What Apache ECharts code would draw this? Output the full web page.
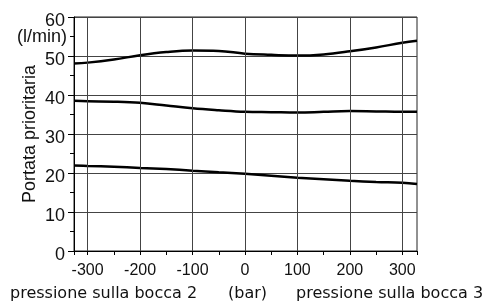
<!DOCTYPE html>
<html>
<head>
<meta charset="utf-8">
<script src="https://cdn.jsdelivr.net/npm/echarts@6/dist/echarts.min.js"></script>
<style>
  html, body { margin: 0; padding: 0; background: #fff; }
  #chart { width: 484px; height: 305px; }
</style>
</head>
<body>
<div id="chart"></div>
<script>
// pressione (bar): negativo = bocca 2, positivo = bocca 3
const pressure = [-326, -300, -250, -200, -150, -100, -50, 0, 50, 100, 150, 200, 250, 300, 328];
// portata prioritaria (l/min), tre curve
const flowHigh = [48.1, 48.3, 49.1, 50.2, 51.0, 51.4, 51.3, 50.6, 50.3, 50.1, 50.4, 51.2, 52.2, 53.4, 53.9];
const flowMid = [38.5, 38.4, 38.3, 38.0, 37.3, 36.6, 36.1, 35.7, 35.6, 35.5, 35.7, 35.9, 35.8, 35.7, 35.7];
const flowLow = [21.9, 21.8, 21.6, 21.3, 21.0, 20.6, 20.2, 19.8, 19.3, 18.8, 18.4, 18.0, 17.7, 17.5, 17.2];

const xLabels = [-300, -200, -100, 0, 100, 200, 300];
const xTicks = [-326, -300, -250, -200, -150, -100, -50, 0, 50, 100, 150, 200, 250, 300, 328];

const chart = echarts.init(document.getElementById("chart"));

const pairs = (ys) => pressure.map((x, i) => [x, ys[i]]);

const curve = (name, ys) => ({
  name: name,
  type: "line",
  data: pairs(ys),
  smooth: 0.4,
  symbol: "none",
  silent: true,
  lineStyle: { color: "#000", width: 2.5 },
});

const series = [
  curve("alta", flowHigh),
  curve("media", flowMid),
  curve("bassa", flowLow),
];
// linee verticali della griglia ogni 100 bar
series[0].markLine = {
  silent: true,
  symbol: "none",
  label: { show: false },
  animation: false,
  lineStyle: { color: "#444", width: 1, type: "solid" },
  data: xLabels.map((v) => ({ xAxis: v })),
};

const textStyle = { fontSize: 16, fontFamily: "DejaVu Sans", fill: "#111" };

chart.setOption({
  animation: false,
  grid: {
    left: 74,
    top: 17,
    right: 67,
    bottom: 54,
    show: true,
    borderColor: "#222",
    borderWidth: 1,
  },
  xAxis: {
    type: "value",
    min: -326,
    max: 328,
    axisLine: { show: true, onZero: false, lineStyle: { color: "#000", width: 1 } },
    axisTick: {
      show: true,
      customValues: xTicks,
      length: 4,
      lineStyle: { color: "#000" },
    },
    axisLabel: {
      customValues: xLabels,
      margin: 12,
      fontSize: 16,
      fontFamily: "Liberation Sans",
      color: "#111",
      hideOverlap: false,
    },
    splitLine: { show: false },
  },
  yAxis: {
    type: "value",
    min: 0,
    max: 60,
    interval: 10,
    name: "Portata prioritaria",
    nameLocation: "middle",
    nameGap: 35,
    nameMoveOverlap: false,
    nameTextStyle: { fontSize: 18, fontFamily: "Liberation Sans", color: "#111" },
    axisLine: { show: true, onZero: false, lineStyle: { color: "#000", width: 1 } },
    axisTick: { show: true, length: 6, lineStyle: { color: "#000" } },
    minorTick: { show: true, splitNumber: 2, length: 4, lineStyle: { color: "#000" } },
    axisLabel: {
      margin: 9,
      fontSize: 18,
      fontFamily: "Liberation Sans",
      color: "#111",
      showMinLabel: true,
      showMaxLabel: true,
      hideOverlap: false,
      formatter: (v) => "{n|" + v + "}",
      rich: {
        n: { fontSize: 18, fontFamily: "Liberation Sans", color: "#111", padding: [9, 0, 0, 0] },
      },
    },
    splitLine: { show: true, lineStyle: { color: "#444", width: 1 } },
  },
  graphic: [
    {
      // unità di misura accanto alla tacca dei 55
      type: "text",
      x: 67,
      y: 37,
      style: {
        text: "(l/min)",
        fontSize: 18,
        fontFamily: "Liberation Sans",
        fill: "#111",
        align: "right",
        verticalAlign: "middle",
      },
    },
    { type: "text", left: 10, top: 286, style: Object.assign({ text: "pressione sulla bocca 2" }, textStyle) },
    { type: "text", left: 228, top: 286, style: Object.assign({ text: "(bar)" }, textStyle) },
    { type: "text", left: 296, top: 286, style: Object.assign({ text: "pressione sulla bocca 3" }, textStyle) },
  ],
  series: series,
});
</script>
</body>
</html>
